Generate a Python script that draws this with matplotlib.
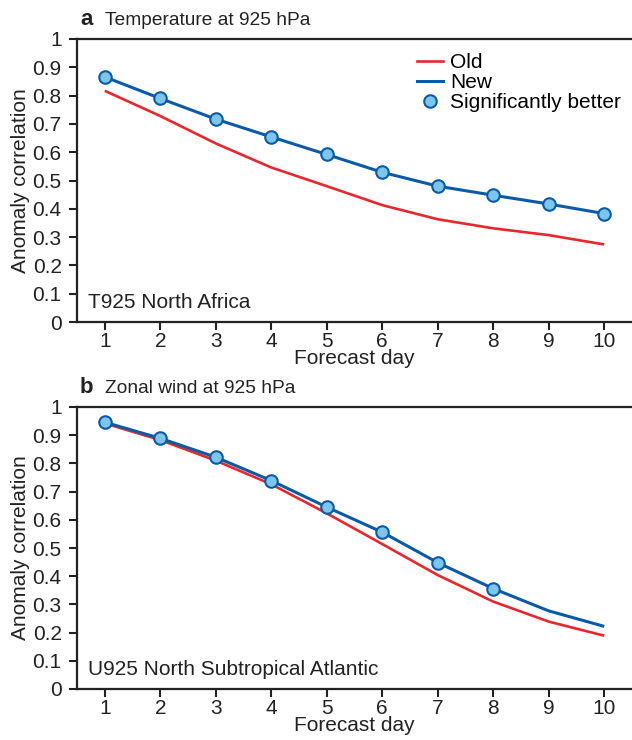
import matplotlib
matplotlib.use("Agg")
import matplotlib.pyplot as plt
from matplotlib.lines import Line2D

plt.rcParams['font.family'] = ['Liberation Sans', 'DejaVu Sans']

days = [1, 2, 3, 4, 5, 6, 7, 8, 9, 10]
t_old = [0.817, 0.728, 0.631, 0.546, 0.480, 0.413, 0.363, 0.331, 0.307, 0.274]
t_new = [0.866, 0.790, 0.717, 0.654, 0.592, 0.529, 0.480, 0.448, 0.417, 0.383]
t_sig = [1, 2, 3, 4, 5, 6, 7, 8, 9, 10]

u_old = [0.942, 0.883, 0.810, 0.726, 0.623, 0.514, 0.404, 0.310, 0.239, 0.189]
u_new = [0.946, 0.889, 0.822, 0.739, 0.645, 0.556, 0.448, 0.356, 0.277, 0.222]
u_sig = [1, 2, 3, 4, 5, 6, 7, 8]

yticks = [0, 0.1, 0.2, 0.3, 0.4, 0.5, 0.6, 0.7, 0.8, 0.9, 1]
ytick_labels = ["0", "0.1", "0.2", "0.3", "0.4", "0.5", "0.6", "0.7", "0.8", "0.9", "1"]

RED = "#e8262e"
BLUE = "#0a5aa6"
LIGHT = "#7cc6ec"
INK = "#222222"

W, H = 632, 740
fig = plt.figure(figsize=(W / 100, H / 100), dpi=100)

panels = [
    dict(pos=[77 / W, 1 - 322 / H, 1 - 77 / W, (322 - 39) / H], old=t_old, new=t_new, sig=t_sig,
         letter="a", title="Temperature at 925 hPa", region="T925 North Africa", legend=True),
    dict(pos=[77 / W, 1 - 689 / H, 1 - 77 / W, (689 - 407) / H], old=u_old, new=u_new, sig=u_sig,
         letter="b", title="Zonal wind at 925 hPa", region="U925 North Subtropical Atlantic", legend=False),
]

fs = 15
ms = 9
for p in panels:
    ax = fig.add_axes(p["pos"])
    ax.plot(days, p["old"], color=RED, lw=1.9, solid_capstyle="butt")
    ax.plot(days, p["new"], color=BLUE, lw=2.2, solid_capstyle="butt")
    sig_y = [p["new"][days.index(d)] for d in p["sig"]]
    ax.plot(p["sig"], sig_y, ls="none", marker="o", ms=ms, mfc=LIGHT, mec=BLUE, mew=1.5)
    ax.set_xlim(0.5, 10.5)
    ax.set_ylim(0, 1)
    ax.set_xticks(days)
    ax.set_xticklabels([str(d) for d in days], fontsize=fs)
    ax.set_yticks(yticks)
    ax.set_yticklabels(ytick_labels, fontsize=fs)
    ax.tick_params(axis="y", direction="out", length=6, width=1.5, colors=INK, labelcolor=INK, pad=5)
    ax.tick_params(axis="x", direction="out", length=6, width=1.5, colors=INK, labelcolor=INK, pad=1)
    for s in ["left", "bottom", "top"]:
        ax.spines[s].set_linewidth(1.6)
        ax.spines[s].set_color(INK)
    ax.spines["right"].set_visible(False)
    ax.set_xlabel("Forecast day", fontsize=fs, labelpad=-1, color=INK)
    ax.set_ylabel("Anomaly correlation", fontsize=fs, labelpad=2, color=INK)
    ax.text(11 / 555, 14.5 / 283, p["region"], transform=ax.transAxes, fontsize=fs, color=INK,
            ha="left", va="baseline")
    ax.text(3 / 555, 1 + 14 / 283, p["letter"], transform=ax.transAxes, fontsize=16, fontweight="bold",
            ha="left", va="baseline", color=INK, clip_on=False)
    ax.text(28 / 555, 1 + 14 / 283, p["title"], transform=ax.transAxes, fontsize=13.8,
            ha="left", va="baseline", color=INK)
    if p["legend"]:
        handles = [Line2D([], [], color=RED, lw=1.9),
                   Line2D([], [], color=BLUE, lw=2.2),
                   Line2D([], [], ls="none", marker="o", ms=ms, mfc=LIGHT, mec=BLUE, mew=1.5)]
        ax.legend(handles, ["Old", "New", "Significantly better"], loc="upper left",
                  bbox_to_anchor=((417 - 77) / 555, (322 - 53) / 283), frameon=False, fontsize=fs,
                  handlelength=1.25, handletextpad=0.35, labelspacing=0.05, borderaxespad=0,
                  borderpad=0)

fig.savefig("out.png", dpi=100)
